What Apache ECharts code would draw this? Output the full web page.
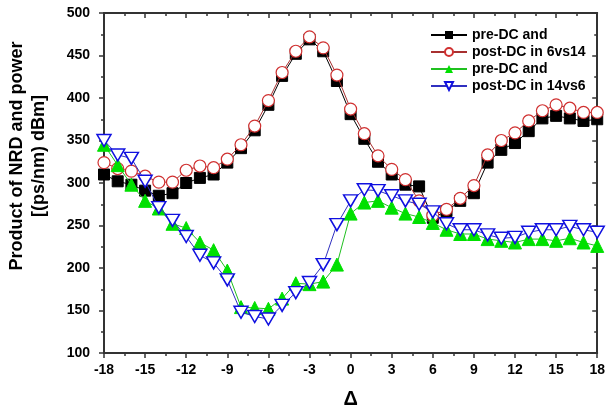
<!DOCTYPE html>
<html>
<head>
<meta charset="utf-8">
<script src="https://cdn.jsdelivr.net/npm/echarts@6/dist/echarts.min.js"></script>
<style>
  html, body { margin: 0; padding: 0; background: #fff; }
  #main { width: 608px; height: 414px; }
</style>
</head>
<body>
<div id="main"></div>
<script>
  // detuning values on the x axis
  var delta = [-18, -17, -16, -15, -14, -13, -12, -11, -10, -9, -8, -7, -6, -5, -4, -3, -2, -1,
    0, 1, 2, 3, 4, 5, 6, 7, 8, 9, 10, 11, 12, 13, 14, 15, 16, 17, 18];

  // 6vs14
  var pre6vs14 = [310, 302, 298, 291, 285, 288, 300, 306, 310, 324, 341, 362, 392, 426, 452, 469, 455, 420,
    381, 352, 325, 310, 298, 296, 259, 267, 279, 288, 324, 339, 347, 361, 376, 379, 376, 373, 375];
  var post6vs14 = [324, 317, 314, 308, 301, 301, 315, 320, 318, 328, 345, 367, 397, 430, 455, 472, 459, 427,
    387, 358, 332, 316, 304, 279, 262, 269, 282, 297, 333, 350, 359, 373, 385, 392, 388, 383, 383];

  // 14vs6
  var pre14vs6 = [345, 321, 298, 279, 270, 252, 247, 230, 221, 197, 154, 153, 152, 164, 182, 181, 184, 204,
    264, 277, 279, 271, 264, 260, 253, 245, 240, 240, 234, 232, 230, 234, 234, 232, 235, 230, 226];
  var post14vs6 = [350, 333, 329, 302, 271, 256, 237, 215, 206, 186, 148, 143, 140, 156, 171, 183, 204, 251,
    279, 292, 291, 285, 279, 275, 266, 252, 245, 245, 239, 235, 236, 242, 245, 245, 249, 245, 242];

  var legendNames = ['pre-DC and ', 'post-DC in 6vs14', 'pre-DC and', 'post-DC in 14vs6'];

  function pairs(ys) {
    return delta.map(function (x, i) { return [x, ys[i]]; });
  }

  var font = 'Liberation Sans, Arial, sans-serif';
  var axisColor = '#333';

  var myChart = echarts.init(document.getElementById('main'));

  var tickLabel = { color: '#000', fontFamily: font, fontWeight: 'bold', fontSize: 14 };

  myChart.setOption({
    animation: false,
    backgroundColor: '#fff',
    grid: { left: 104, right: 8, top: 13, bottom: 58 },
    legend: {
      orient: 'vertical',
      left: 425,
      top: 23,
      itemWidth: 36,
      itemHeight: 10,
      itemGap: 3,
      data: legendNames,
      textStyle: { color: '#000', fontFamily: font, fontWeight: 'bold', fontSize: 14 }
    },
    xAxis: [{
      type: 'value',
      min: -18,
      max: 18,
      interval: 3,
      name: 'Δ',
      nameLocation: 'middle',
      nameGap: 36,
      nameTextStyle: { color: '#000', fontFamily: font, fontWeight: 'bold', fontSize: 20 },
      axisLine: { onZero: false, lineStyle: { color: axisColor, width: 2 } },
      axisTick: { length: 5, lineStyle: { color: axisColor, width: 1.5 } },
      minorTick: { show: true, splitNumber: 2, length: 3, lineStyle: { color: axisColor, width: 1.5 } },
      axisLabel: Object.assign({ margin: 10 }, tickLabel),
      splitLine: { show: false }
    }, {
      type: 'value',
      position: 'top',
      min: -18,
      max: 18,
      interval: 3,
      axisLine: { show: true, onZero: false, lineStyle: { color: axisColor, width: 2 } },
      axisTick: { inside: true, length: 5, lineStyle: { color: axisColor, width: 1.5 } },
      minorTick: { show: true, splitNumber: 2, length: 3, lineStyle: { color: axisColor, width: 1.5 } },
      axisLabel: { show: false },
      splitLine: { show: false }
    }],
    yAxis: [{
      type: 'value',
      min: 100,
      max: 500,
      interval: 50,
      axisLine: { show: true, onZero: false, lineStyle: { color: axisColor, width: 2 } },
      axisTick: { show: true, length: 5, lineStyle: { color: axisColor, width: 1.5 } },
      minorTick: { show: true, splitNumber: 2, length: 3, lineStyle: { color: axisColor, width: 1.5 } },
      axisLabel: Object.assign({ margin: 14 }, tickLabel),
      splitLine: { show: false }
    }, {
      type: 'value',
      position: 'right',
      min: 100,
      max: 500,
      interval: 50,
      axisLine: { show: true, onZero: false, lineStyle: { color: axisColor, width: 2 } },
      axisTick: { show: true, inside: true, length: 5, lineStyle: { color: axisColor, width: 1.5 } },
      minorTick: { show: true, splitNumber: 2, length: 3, lineStyle: { color: axisColor, width: 1.5 } },
      axisLabel: { show: false },
      splitLine: { show: false }
    }],
    graphic: [{
      type: 'text',
      rotation: Math.PI / 2,
      position: [6, 156],
      style: {
        text: 'Product of NRD and power\n[(ps/nm) dBm]',
        align: 'center',
        fill: '#000',
        font: 'bold 18px ' + font,
        lineHeight: 22
      }
    }],
    series: [{
      name: legendNames[0],
      type: 'line',
      data: pairs(pre6vs14),
      symbol: 'rect',
      symbolSize: 11,
      z: 2,
      lineStyle: { color: '#000', width: 1 },
      itemStyle: { color: '#000', borderColor: '#000' }
    }, {
      name: legendNames[1],
      type: 'line',
      data: pairs(post6vs14),
      symbol: 'circle',
      symbolSize: 12,
      z: 3,
      lineStyle: { color: '#a83030', width: 1 },
      itemStyle: { color: '#fff', borderColor: '#d03030', borderWidth: 1.2 }
    }, {
      name: legendNames[2],
      type: 'line',
      data: pairs(pre14vs6),
      symbol: 'triangle',
      symbolSize: 13,
      z: 4,
      lineStyle: { color: '#20c020', width: 1 },
      itemStyle: { color: '#00e000', borderColor: '#00e000' }
    }, {
      name: legendNames[3],
      type: 'line',
      data: pairs(post14vs6),
      symbol: 'path://M0,0 L10,0 L5,9 Z',
      symbolSize: [14, 12],
      z: 5,
      lineStyle: { color: '#3030c0', width: 1 },
      itemStyle: { color: '#fff', borderColor: '#1010e0', borderWidth: 1.5 }
    }]
  });
</script>
</body>
</html>
